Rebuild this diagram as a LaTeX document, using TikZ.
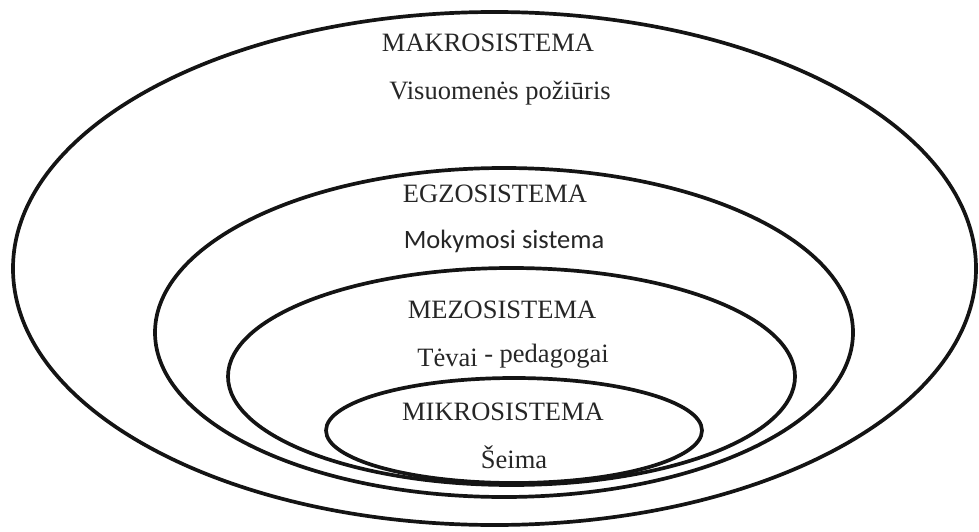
\documentclass[tikz,border=0pt]{standalone}
\usepackage{fontspec}
\setmainfont{Liberation Serif}
\newfontfamily\carl{Carlito}
\begin{document}
\begin{tikzpicture}[x=1pt,y=-1pt,
  ring/.style={draw=black!92, line width=3.7pt},
  lbl/.style={anchor=base, inner sep=0pt, text=black!85, font=\fontsize{26.5}{30}\selectfont}]
\useasboundingbox (0,0) rectangle (979,532);
% ellipses
\draw[ring] (494.5,268.5) ellipse [x radius=481.5pt, y radius=256.5pt];
\draw[ring] (504,332.5) ellipse [x radius=349pt, y radius=164.5pt];
\draw[ring] (511.5,376.5) ellipse [x radius=283.5pt, y radius=108.5pt];
\draw[ring] (514,430.5) ellipse [x radius=188pt, y radius=52.5pt];
% labels
\node[lbl] (makro) at (488,52) {MAKROSISTEMA};
\node[lbl] (makrot) at (500,100) {Visuomenės požiūris};
\node[lbl] (egzo) at (495,202) {EGZOSISTEMA};
\node[lbl, font=\carl\fontsize{26.5}{30}\selectfont] (egzot) at (504,248) {Mokymosi sistema};
\node[lbl] (mezo) at (502,318) {MEZOSISTEMA};
\node[lbl] (mezot) at (513,366) {Tėvai \raisebox{4pt}{- pedagogai}};
\node[lbl] (mikro) at (503,420) {MIKROSISTEMA};
\node[lbl] (mikrot) at (514,468) {Šeima};
\end{tikzpicture}
\end{document}
